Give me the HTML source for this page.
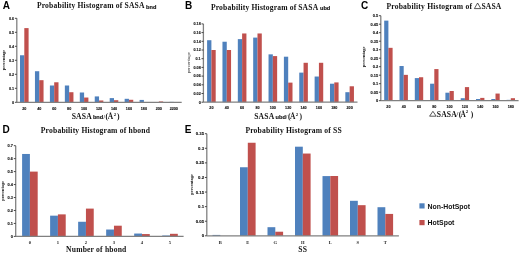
<!DOCTYPE html>
<html><head><meta charset="utf-8"><style>
html,body{margin:0;padding:0;background:#fff;}
svg{display:block;will-change:transform;}
.tks{font-family:"Liberation Serif",serif;font-size:4.6px;fill:#222;font-weight:bold;}
.tk{font-family:"Liberation Sans",sans-serif;font-size:3.7px;fill:#111;font-weight:bold;stroke:#111;stroke-width:0.12px;}
.ttl{font-family:"Liberation Serif",serif;font-weight:bold;fill:#111;}
.lt{font-family:"Liberation Sans",sans-serif;font-weight:bold;font-size:10px;fill:#000;}
.sub{font-family:"Liberation Sans",sans-serif;font-weight:bold;fill:#111;stroke:#111;stroke-width:0.15px;}
.yl{font-family:"Liberation Serif",serif;font-weight:bold;font-size:4.8px;fill:#111;}
.yl2{font-family:"Liberation Sans",sans-serif;font-size:4.2px;fill:#333;}
.lg{font-family:"Liberation Sans",sans-serif;font-weight:bold;font-size:6.9px;fill:#111;}
</style></head><body>
<svg width="520" height="254" viewBox="0 0 520 254">
<rect x="20" y="55.26" width="4.3" height="47.04" fill="#4f81bd"/>
<rect x="24.3" y="28.1" width="4.3" height="74.2" fill="#c0504d"/>
<rect x="34.95" y="71.22" width="4.3" height="31.08" fill="#4f81bd"/>
<rect x="39.25" y="80.18" width="4.3" height="22.12" fill="#c0504d"/>
<rect x="49.9" y="85.5" width="4.3" height="16.8" fill="#4f81bd"/>
<rect x="54.2" y="82.28" width="4.3" height="20.02" fill="#c0504d"/>
<rect x="64.85" y="85.5" width="4.3" height="16.8" fill="#4f81bd"/>
<rect x="69.15" y="92.22" width="4.3" height="10.08" fill="#c0504d"/>
<rect x="79.8" y="92.5" width="4.3" height="9.8" fill="#4f81bd"/>
<rect x="84.1" y="97.54" width="4.3" height="4.76" fill="#c0504d"/>
<rect x="94.75" y="96.42" width="4.3" height="5.88" fill="#4f81bd"/>
<rect x="99.05" y="100.48" width="4.3" height="1.82" fill="#c0504d"/>
<rect x="109.7" y="98.1" width="4.3" height="4.2" fill="#4f81bd"/>
<rect x="114" y="100.2" width="4.3" height="2.1" fill="#c0504d"/>
<rect x="124.65" y="98.8" width="4.3" height="3.5" fill="#4f81bd"/>
<rect x="128.95" y="99.78" width="4.3" height="2.52" fill="#c0504d"/>
<rect x="139.6" y="99.92" width="4.3" height="2.38" fill="#4f81bd"/>
<rect x="143.9" y="102.16" width="4.3" height="0.14" fill="#c0504d"/>
<rect x="154.55" y="102.02" width="4.3" height="0.28" fill="#4f81bd"/>
<rect x="158.85" y="101.46" width="4.3" height="0.84" fill="#c0504d"/>
<rect x="169.5" y="101.88" width="4.3" height="0.42" fill="#4f81bd"/>
<rect x="173.8" y="102.16" width="4.3" height="0.14" fill="#c0504d"/>
<line x1="16.8" y1="18.3" x2="16.8" y2="102.3" stroke="#808080" stroke-width="1.3"/>
<line x1="16.8" y1="102.3" x2="181.7" y2="102.3" stroke="#808080" stroke-width="1.3"/>
<line x1="14.9" y1="102.3" x2="16.8" y2="102.3" stroke="#333" stroke-width="0.9"/>
<text x="14.1" y="103.6" class="tk" style="font-size:3.7px" text-anchor="end">0</text>
<line x1="14.9" y1="88.3" x2="16.8" y2="88.3" stroke="#333" stroke-width="0.9"/>
<text x="14.1" y="89.6" class="tk" style="font-size:3.7px" text-anchor="end">0.1</text>
<line x1="14.9" y1="74.3" x2="16.8" y2="74.3" stroke="#333" stroke-width="0.9"/>
<text x="14.1" y="75.6" class="tk" style="font-size:3.7px" text-anchor="end">0.2</text>
<line x1="14.9" y1="60.3" x2="16.8" y2="60.3" stroke="#333" stroke-width="0.9"/>
<text x="14.1" y="61.6" class="tk" style="font-size:3.7px" text-anchor="end">0.3</text>
<line x1="14.9" y1="46.3" x2="16.8" y2="46.3" stroke="#333" stroke-width="0.9"/>
<text x="14.1" y="47.6" class="tk" style="font-size:3.7px" text-anchor="end">0.4</text>
<line x1="14.9" y1="32.3" x2="16.8" y2="32.3" stroke="#333" stroke-width="0.9"/>
<text x="14.1" y="33.6" class="tk" style="font-size:3.7px" text-anchor="end">0.5</text>
<line x1="14.9" y1="18.3" x2="16.8" y2="18.3" stroke="#333" stroke-width="0.9"/>
<text x="14.1" y="19.6" class="tk" style="font-size:3.7px" text-anchor="end">0.6</text>
<text x="24.3" y="109.9" class="tk" text-anchor="middle">20</text>
<text x="39.25" y="109.9" class="tk" text-anchor="middle">40</text>
<text x="54.2" y="109.9" class="tk" text-anchor="middle">60</text>
<text x="69.15" y="109.9" class="tk" text-anchor="middle">80</text>
<text x="84.1" y="109.9" class="tk" text-anchor="middle">100</text>
<text x="99.05" y="109.9" class="tk" text-anchor="middle">120</text>
<text x="114" y="109.9" class="tk" text-anchor="middle">140</text>
<text x="128.95" y="109.9" class="tk" text-anchor="middle">160</text>
<text x="143.9" y="109.9" class="tk" text-anchor="middle">180</text>
<text x="158.85" y="109.9" class="tk" text-anchor="middle">200</text>
<text x="173.8" y="109.9" class="tk" text-anchor="middle">2200</text>
<rect x="207.1" y="40.21" width="4.3" height="61.99" fill="#4f81bd"/>
<rect x="211.4" y="50" width="4.3" height="52.2" fill="#c0504d"/>
<rect x="222.46" y="41.73" width="4.3" height="60.47" fill="#4f81bd"/>
<rect x="226.76" y="50" width="4.3" height="52.2" fill="#c0504d"/>
<rect x="237.82" y="39.13" width="4.3" height="63.07" fill="#4f81bd"/>
<rect x="242.12" y="33.47" width="4.3" height="68.73" fill="#c0504d"/>
<rect x="253.18" y="37.6" width="4.3" height="64.6" fill="#4f81bd"/>
<rect x="257.48" y="33.47" width="4.3" height="68.73" fill="#c0504d"/>
<rect x="268.54" y="54.35" width="4.3" height="47.85" fill="#4f81bd"/>
<rect x="272.84" y="56.09" width="4.3" height="46.11" fill="#c0504d"/>
<rect x="283.9" y="56.7" width="4.3" height="45.5" fill="#4f81bd"/>
<rect x="288.2" y="82.62" width="4.3" height="19.57" fill="#c0504d"/>
<rect x="299.26" y="72.62" width="4.3" height="29.58" fill="#4f81bd"/>
<rect x="303.56" y="62.79" width="4.3" height="39.41" fill="#c0504d"/>
<rect x="314.62" y="76.53" width="4.3" height="25.66" fill="#4f81bd"/>
<rect x="318.92" y="62.79" width="4.3" height="39.41" fill="#c0504d"/>
<rect x="329.98" y="83.71" width="4.3" height="18.49" fill="#4f81bd"/>
<rect x="334.28" y="82.41" width="4.3" height="19.79" fill="#c0504d"/>
<rect x="345.34" y="92.2" width="4.3" height="10" fill="#4f81bd"/>
<rect x="349.64" y="86.28" width="4.3" height="15.92" fill="#c0504d"/>
<line x1="203.4" y1="23.9" x2="203.4" y2="102.2" stroke="#808080" stroke-width="1.3"/>
<line x1="203.4" y1="102.2" x2="357.5" y2="102.2" stroke="#808080" stroke-width="1.3"/>
<line x1="201.5" y1="102.2" x2="203.4" y2="102.2" stroke="#333" stroke-width="0.9"/>
<text x="200.7" y="103.5" class="tk" style="font-size:3.7px" text-anchor="end">0</text>
<line x1="201.5" y1="93.5" x2="203.4" y2="93.5" stroke="#333" stroke-width="0.9"/>
<text x="200.7" y="94.8" class="tk" style="font-size:3.7px" text-anchor="end">0.02</text>
<line x1="201.5" y1="84.8" x2="203.4" y2="84.8" stroke="#333" stroke-width="0.9"/>
<text x="200.7" y="86.1" class="tk" style="font-size:3.7px" text-anchor="end">0.04</text>
<line x1="201.5" y1="76.1" x2="203.4" y2="76.1" stroke="#333" stroke-width="0.9"/>
<text x="200.7" y="77.4" class="tk" style="font-size:3.7px" text-anchor="end">0.06</text>
<line x1="201.5" y1="67.4" x2="203.4" y2="67.4" stroke="#333" stroke-width="0.9"/>
<text x="200.7" y="68.7" class="tk" style="font-size:3.7px" text-anchor="end">0.08</text>
<line x1="201.5" y1="58.7" x2="203.4" y2="58.7" stroke="#333" stroke-width="0.9"/>
<text x="200.7" y="60" class="tk" style="font-size:3.7px" text-anchor="end">0.1</text>
<line x1="201.5" y1="50" x2="203.4" y2="50" stroke="#333" stroke-width="0.9"/>
<text x="200.7" y="51.3" class="tk" style="font-size:3.7px" text-anchor="end">0.12</text>
<line x1="201.5" y1="41.3" x2="203.4" y2="41.3" stroke="#333" stroke-width="0.9"/>
<text x="200.7" y="42.6" class="tk" style="font-size:3.7px" text-anchor="end">0.14</text>
<line x1="201.5" y1="32.6" x2="203.4" y2="32.6" stroke="#333" stroke-width="0.9"/>
<text x="200.7" y="33.9" class="tk" style="font-size:3.7px" text-anchor="end">0.16</text>
<line x1="201.5" y1="23.9" x2="203.4" y2="23.9" stroke="#333" stroke-width="0.9"/>
<text x="200.7" y="25.2" class="tk" style="font-size:3.7px" text-anchor="end">0.18</text>
<text x="211.4" y="108.6" class="tk" text-anchor="middle">20</text>
<text x="226.76" y="108.6" class="tk" text-anchor="middle">40</text>
<text x="242.12" y="108.6" class="tk" text-anchor="middle">60</text>
<text x="257.48" y="108.6" class="tk" text-anchor="middle">80</text>
<text x="272.84" y="108.6" class="tk" text-anchor="middle">100</text>
<text x="288.2" y="108.6" class="tk" text-anchor="middle">120</text>
<text x="303.56" y="108.6" class="tk" text-anchor="middle">140</text>
<text x="318.92" y="108.6" class="tk" text-anchor="middle">160</text>
<text x="334.28" y="108.6" class="tk" text-anchor="middle">180</text>
<text x="349.64" y="108.6" class="tk" text-anchor="middle">200</text>
<rect x="384.2" y="20.63" width="4.2" height="80.07" fill="#4f81bd"/>
<rect x="388.4" y="47.83" width="4.2" height="52.87" fill="#c0504d"/>
<rect x="399.5" y="66.02" width="4.2" height="34.68" fill="#4f81bd"/>
<rect x="403.7" y="74.86" width="4.2" height="25.84" fill="#c0504d"/>
<rect x="414.8" y="78.09" width="4.2" height="22.61" fill="#4f81bd"/>
<rect x="419" y="77.24" width="4.2" height="23.46" fill="#c0504d"/>
<rect x="430.1" y="83.7" width="4.2" height="17" fill="#4f81bd"/>
<rect x="434.3" y="69.08" width="4.2" height="31.62" fill="#c0504d"/>
<rect x="445.4" y="92.71" width="4.2" height="7.99" fill="#4f81bd"/>
<rect x="449.6" y="91.01" width="4.2" height="9.69" fill="#c0504d"/>
<rect x="460.7" y="98.2" width="4.2" height="2.5" fill="#4f81bd"/>
<rect x="464.9" y="87.1" width="4.2" height="13.6" fill="#c0504d"/>
<rect x="476" y="99" width="4.2" height="1.7" fill="#4f81bd"/>
<rect x="480.2" y="97.89" width="4.2" height="2.81" fill="#c0504d"/>
<rect x="491.3" y="99" width="4.2" height="1.7" fill="#4f81bd"/>
<rect x="495.5" y="93.56" width="4.2" height="7.14" fill="#c0504d"/>
<rect x="506.6" y="99.85" width="4.2" height="0.85" fill="#4f81bd"/>
<rect x="510.8" y="98.2" width="4.2" height="2.5" fill="#c0504d"/>
<line x1="380.8" y1="15.7" x2="380.8" y2="100.7" stroke="#808080" stroke-width="1.3"/>
<line x1="380.8" y1="100.7" x2="518.6" y2="100.7" stroke="#808080" stroke-width="1.3"/>
<line x1="378.9" y1="100.7" x2="380.8" y2="100.7" stroke="#333" stroke-width="0.9"/>
<text x="378.1" y="102.07" class="tk" style="font-size:3.9px" text-anchor="end">0</text>
<line x1="378.9" y1="92.2" x2="380.8" y2="92.2" stroke="#333" stroke-width="0.9"/>
<text x="378.1" y="93.57" class="tk" style="font-size:3.9px" text-anchor="end">0.05</text>
<line x1="378.9" y1="83.7" x2="380.8" y2="83.7" stroke="#333" stroke-width="0.9"/>
<text x="378.1" y="85.07" class="tk" style="font-size:3.9px" text-anchor="end">0.1</text>
<line x1="378.9" y1="75.2" x2="380.8" y2="75.2" stroke="#333" stroke-width="0.9"/>
<text x="378.1" y="76.57" class="tk" style="font-size:3.9px" text-anchor="end">0.15</text>
<line x1="378.9" y1="66.7" x2="380.8" y2="66.7" stroke="#333" stroke-width="0.9"/>
<text x="378.1" y="68.07" class="tk" style="font-size:3.9px" text-anchor="end">0.2</text>
<line x1="378.9" y1="58.2" x2="380.8" y2="58.2" stroke="#333" stroke-width="0.9"/>
<text x="378.1" y="59.57" class="tk" style="font-size:3.9px" text-anchor="end">0.25</text>
<line x1="378.9" y1="49.7" x2="380.8" y2="49.7" stroke="#333" stroke-width="0.9"/>
<text x="378.1" y="51.07" class="tk" style="font-size:3.9px" text-anchor="end">0.3</text>
<line x1="378.9" y1="41.2" x2="380.8" y2="41.2" stroke="#333" stroke-width="0.9"/>
<text x="378.1" y="42.57" class="tk" style="font-size:3.9px" text-anchor="end">0.35</text>
<line x1="378.9" y1="32.7" x2="380.8" y2="32.7" stroke="#333" stroke-width="0.9"/>
<text x="378.1" y="34.07" class="tk" style="font-size:3.9px" text-anchor="end">0.4</text>
<line x1="378.9" y1="24.2" x2="380.8" y2="24.2" stroke="#333" stroke-width="0.9"/>
<text x="378.1" y="25.57" class="tk" style="font-size:3.9px" text-anchor="end">0.45</text>
<line x1="378.9" y1="15.7" x2="380.8" y2="15.7" stroke="#333" stroke-width="0.9"/>
<text x="378.1" y="17.07" class="tk" style="font-size:3.9px" text-anchor="end">0.5</text>
<text x="388.4" y="107.6" class="tk" text-anchor="middle">20</text>
<text x="403.7" y="107.6" class="tk" text-anchor="middle">40</text>
<text x="419" y="107.6" class="tk" text-anchor="middle">60</text>
<text x="434.3" y="107.6" class="tk" text-anchor="middle">80</text>
<text x="449.6" y="107.6" class="tk" text-anchor="middle">100</text>
<text x="464.9" y="107.6" class="tk" text-anchor="middle">120</text>
<text x="480.2" y="107.6" class="tk" text-anchor="middle">140</text>
<text x="495.5" y="107.6" class="tk" text-anchor="middle">160</text>
<text x="510.8" y="107.6" class="tk" text-anchor="middle">180</text>
<rect x="22.1" y="153.97" width="7.8" height="82.43" fill="#4f81bd"/>
<rect x="29.9" y="171.6" width="7.8" height="64.8" fill="#c0504d"/>
<rect x="50.12" y="215.66" width="7.8" height="20.74" fill="#4f81bd"/>
<rect x="57.92" y="214.37" width="7.8" height="22.03" fill="#c0504d"/>
<rect x="78.14" y="221.76" width="7.8" height="14.64" fill="#4f81bd"/>
<rect x="85.94" y="208.6" width="7.8" height="27.8" fill="#c0504d"/>
<rect x="106.16" y="229.53" width="7.8" height="6.87" fill="#4f81bd"/>
<rect x="113.96" y="225.7" width="7.8" height="10.7" fill="#c0504d"/>
<rect x="134.18" y="233.55" width="7.8" height="2.85" fill="#4f81bd"/>
<rect x="141.98" y="234.07" width="7.8" height="2.33" fill="#c0504d"/>
<rect x="162.2" y="235.49" width="7.8" height="0.91" fill="#4f81bd"/>
<rect x="170" y="233.81" width="7.8" height="2.59" fill="#c0504d"/>
<line x1="15.7" y1="145.68" x2="15.7" y2="236.4" stroke="#808080" stroke-width="1.3"/>
<line x1="15.7" y1="236.4" x2="183.6" y2="236.4" stroke="#808080" stroke-width="1.3"/>
<line x1="13.8" y1="236.4" x2="15.7" y2="236.4" stroke="#333" stroke-width="0.9"/>
<text x="13" y="237.77" class="tk" style="font-size:3.9px" text-anchor="end">0</text>
<line x1="13.8" y1="223.44" x2="15.7" y2="223.44" stroke="#333" stroke-width="0.9"/>
<text x="13" y="224.81" class="tk" style="font-size:3.9px" text-anchor="end">0.1</text>
<line x1="13.8" y1="210.48" x2="15.7" y2="210.48" stroke="#333" stroke-width="0.9"/>
<text x="13" y="211.85" class="tk" style="font-size:3.9px" text-anchor="end">0.2</text>
<line x1="13.8" y1="197.52" x2="15.7" y2="197.52" stroke="#333" stroke-width="0.9"/>
<text x="13" y="198.89" class="tk" style="font-size:3.9px" text-anchor="end">0.3</text>
<line x1="13.8" y1="184.56" x2="15.7" y2="184.56" stroke="#333" stroke-width="0.9"/>
<text x="13" y="185.93" class="tk" style="font-size:3.9px" text-anchor="end">0.4</text>
<line x1="13.8" y1="171.6" x2="15.7" y2="171.6" stroke="#333" stroke-width="0.9"/>
<text x="13" y="172.97" class="tk" style="font-size:3.9px" text-anchor="end">0.5</text>
<line x1="13.8" y1="158.64" x2="15.7" y2="158.64" stroke="#333" stroke-width="0.9"/>
<text x="13" y="160.01" class="tk" style="font-size:3.9px" text-anchor="end">0.6</text>
<line x1="13.8" y1="145.68" x2="15.7" y2="145.68" stroke="#333" stroke-width="0.9"/>
<text x="13" y="147.05" class="tk" style="font-size:3.9px" text-anchor="end">0.7</text>
<text x="29.9" y="243.6" class="tks" text-anchor="middle">0</text>
<text x="57.92" y="243.6" class="tks" text-anchor="middle">1</text>
<text x="85.94" y="243.6" class="tks" text-anchor="middle">2</text>
<text x="113.96" y="243.6" class="tks" text-anchor="middle">3</text>
<text x="141.98" y="243.6" class="tks" text-anchor="middle">4</text>
<text x="170" y="243.6" class="tks" text-anchor="middle">5</text>
<rect x="212.5" y="234.92" width="7.8" height="0.88" fill="#4f81bd"/>
<rect x="240" y="167.25" width="7.8" height="68.55" fill="#4f81bd"/>
<rect x="247.8" y="142.75" width="7.8" height="93.05" fill="#c0504d"/>
<rect x="267.5" y="227.19" width="7.8" height="8.61" fill="#4f81bd"/>
<rect x="275.3" y="231.72" width="7.8" height="4.08" fill="#c0504d"/>
<rect x="295" y="146.69" width="7.8" height="89.11" fill="#4f81bd"/>
<rect x="302.8" y="153.54" width="7.8" height="82.26" fill="#c0504d"/>
<rect x="322.5" y="176.09" width="7.8" height="59.71" fill="#4f81bd"/>
<rect x="330.3" y="176" width="7.8" height="59.8" fill="#c0504d"/>
<rect x="350" y="200.8" width="7.8" height="35" fill="#4f81bd"/>
<rect x="357.8" y="205.17" width="7.8" height="30.63" fill="#c0504d"/>
<rect x="377.5" y="207.21" width="7.8" height="28.59" fill="#4f81bd"/>
<rect x="385.3" y="213.92" width="7.8" height="21.88" fill="#c0504d"/>
<line x1="206.8" y1="133.71" x2="206.8" y2="235.8" stroke="#808080" stroke-width="1.3"/>
<line x1="206.8" y1="235.8" x2="398.9" y2="235.8" stroke="#808080" stroke-width="1.3"/>
<line x1="204.9" y1="235.8" x2="206.8" y2="235.8" stroke="#333" stroke-width="0.9"/>
<text x="204.1" y="237.31" class="tk" style="font-size:4.3px" text-anchor="end">0</text>
<line x1="204.9" y1="221.22" x2="206.8" y2="221.22" stroke="#333" stroke-width="0.9"/>
<text x="204.1" y="222.73" class="tk" style="font-size:4.3px" text-anchor="end">0.05</text>
<line x1="204.9" y1="206.63" x2="206.8" y2="206.63" stroke="#333" stroke-width="0.9"/>
<text x="204.1" y="208.14" class="tk" style="font-size:4.3px" text-anchor="end">0.1</text>
<line x1="204.9" y1="192.05" x2="206.8" y2="192.05" stroke="#333" stroke-width="0.9"/>
<text x="204.1" y="193.56" class="tk" style="font-size:4.3px" text-anchor="end">0.15</text>
<line x1="204.9" y1="177.46" x2="206.8" y2="177.46" stroke="#333" stroke-width="0.9"/>
<text x="204.1" y="178.97" class="tk" style="font-size:4.3px" text-anchor="end">0.2</text>
<line x1="204.9" y1="162.88" x2="206.8" y2="162.88" stroke="#333" stroke-width="0.9"/>
<text x="204.1" y="164.39" class="tk" style="font-size:4.3px" text-anchor="end">0.25</text>
<line x1="204.9" y1="148.29" x2="206.8" y2="148.29" stroke="#333" stroke-width="0.9"/>
<text x="204.1" y="149.8" class="tk" style="font-size:4.3px" text-anchor="end">0.3</text>
<line x1="204.9" y1="133.71" x2="206.8" y2="133.71" stroke="#333" stroke-width="0.9"/>
<text x="204.1" y="135.22" class="tk" style="font-size:4.3px" text-anchor="end">0.35</text>
<text x="220.3" y="243.8" class="tks" text-anchor="middle">B</text>
<text x="247.8" y="243.8" class="tks" text-anchor="middle">E</text>
<text x="275.3" y="243.8" class="tks" text-anchor="middle">G</text>
<text x="302.8" y="243.8" class="tks" text-anchor="middle">H</text>
<text x="330.3" y="243.8" class="tks" text-anchor="middle">L</text>
<text x="357.8" y="243.8" class="tks" text-anchor="middle">S</text>
<text x="385.3" y="243.8" class="tks" text-anchor="middle">T</text>
<!-- panel letters -->
<text x="2.7" y="8.9" class="lt">A</text>
<text x="184.9" y="9.1" class="lt">B</text>
<text x="361.0" y="9.3" class="lt">C</text>
<text x="2.6" y="132.7" class="lt">D</text>
<text x="184.8" y="132.7" class="lt">E</text>
<!-- titles -->
<text x="36.9" y="8.35" class="ttl" font-size="7.6px" letter-spacing="0.18">Probability Histogram of</text>
<text x="124.5" y="8.35" class="ttl" font-size="7.6px" letter-spacing="0.18">SASA</text>
<text x="146.1" y="9.1" class="sub" font-size="5.6px">bnd</text>
<text x="210.9" y="9.5" class="ttl" font-size="7.6px" letter-spacing="0.18">Probability Histogram of</text>
<text x="298.2" y="9.5" class="ttl" font-size="7.6px" letter-spacing="0.18">SASA</text>
<text x="320.0" y="9.6" class="sub" font-size="5.6px">ubd</text>
<text x="386.5" y="8.9" class="ttl" font-size="7.6px" letter-spacing="0.18">Probability Histogram of</text>
<text x="481.4" y="8.9" class="ttl" font-size="7.6px" letter-spacing="0.18">SASA</text>
<polygon points="474.4,8.6 477.6,3.0 480.8,8.6" fill="none" stroke="#222" stroke-width="0.75"/>
<text x="40.8" y="132.6" class="ttl" font-size="7.6px" letter-spacing="0.18">Probability Histogram of hbond</text>
<!-- x axis titles -->
<text x="71.7" y="119.1" class="ttl" font-size="7.6px" letter-spacing="0.18">SASA</text>
<text x="92.9" y="119.1" class="sub" font-size="5.6px">bnd</text>
<text x="103.4" y="118.7" class="ttl" font-size="5.5px">/</text>
<text x="105.6" y="119.1" class="ttl" font-size="7.6px" letter-spacing="0.18">(</text>
<text x="107.8" y="119.1" class="ttl" font-size="7.5px">&#197;</text>
<text x="113.8" y="116.2" class="ttl" font-size="4.9px">2</text>
<text x="117.1" y="119.1" class="ttl" font-size="7.6px" letter-spacing="0.18">)</text>
<text x="254.2" y="118.9" class="ttl" font-size="7.6px" letter-spacing="0.18">SASA</text>
<text x="275.6" y="118.9" class="sub" font-size="5.6px">ubd</text>
<text x="285.7" y="118.5" class="ttl" font-size="5.5px">/</text>
<text x="288.0" y="118.9" class="ttl" font-size="7.6px" letter-spacing="0.18">(</text>
<text x="290.1" y="118.9" class="ttl" font-size="7.5px">&#197;</text>
<text x="295.8" y="116.0" class="ttl" font-size="4.9px">2</text>
<text x="299.4" y="118.9" class="ttl" font-size="7.6px" letter-spacing="0.18">)</text>
<text x="436.8" y="116.6" class="ttl" font-size="7.6px" letter-spacing="0.18">SASA</text>
<text x="456.6" y="116.4" class="ttl" font-size="6.5px">/</text>
<text x="458.8" y="116.6" class="ttl" font-size="7.6px" letter-spacing="0.18">(</text>
<text x="460.5" y="116.6" class="ttl" font-size="7.3px">&#197;</text>
<text x="465.8" y="113.4" class="ttl" font-size="4.9px">2</text>
<text x="470.7" y="116.6" class="ttl" font-size="7.6px" letter-spacing="0.18">)</text>
<polygon points="429.6,116.2 432.9,111.3 436.2,116.2" fill="none" stroke="#222" stroke-width="0.75"/>
<text x="66.1" y="251.7" class="ttl" font-size="7.6px" letter-spacing="0.18">Number of hbond</text>
<text x="298.3" y="252.2" class="ttl" font-size="7.6px" letter-spacing="0.18">SS</text>
<!-- y labels -->
<text transform="translate(5.4,60) rotate(-90)" class="yl" text-anchor="middle" textLength="20.6" lengthAdjust="spacingAndGlyphs">percentage</text>
<text transform="translate(190.1,62.75) rotate(-90)" class="yl2" text-anchor="middle" textLength="21.2" lengthAdjust="spacingAndGlyphs">percentage</text>
<text transform="translate(364.9,56.85) rotate(-90)" class="yl" text-anchor="middle" textLength="20.6" lengthAdjust="spacingAndGlyphs">percentage</text>
<text transform="translate(3.7,190.85) rotate(-90)" class="yl" text-anchor="middle" textLength="19.8" lengthAdjust="spacingAndGlyphs">percentage</text>
<text transform="translate(192.8,184.4) rotate(-90)" class="yl" text-anchor="middle" textLength="20.8" lengthAdjust="spacingAndGlyphs">percentage</text>
<!-- title E -->
<text x="245.4" y="133.0" class="ttl" font-size="7.6px" letter-spacing="0.18">Probability Histogram of SS</text>
<!-- legend -->
<rect x="419.4" y="203.3" width="5.2" height="5.2" fill="#4f81bd"/>
<text x="427.6" y="208.7" class="lg">Non-HotSpot</text>
<rect x="419.4" y="220" width="5.2" height="5.2" fill="#c0504d"/>
<text x="427.6" y="225.3" class="lg">HotSpot</text>
</svg>
</body></html>
